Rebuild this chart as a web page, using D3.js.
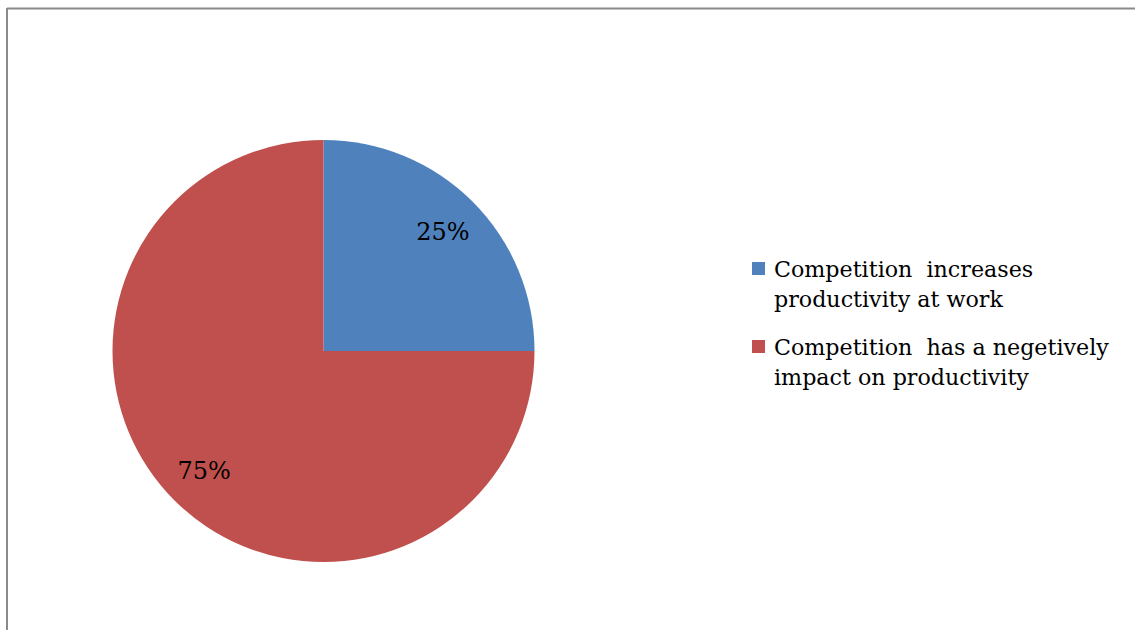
<!DOCTYPE html>
<html>
<head>
<meta charset="utf-8">
<script src="https://cdn.jsdelivr.net/npm/d3@7"></script>
<style>
  html, body { margin: 0; padding: 0; background: #fff; }
  svg { display: block; }
  text { font-family: "DejaVu Serif", "Liberation Serif", serif; }
</style>
</head>
<body>
<svg id="chart" width="1135" height="630"></svg>
<script>
// Survey answers and their shares
const categories = [
  ["Competition  increases", "productivity at work"],
  ["Competition  has a negetively", "impact on productivity"]
];
const values = [25, 75];
const labels = ["25%", "75%"];
const colors = ["#4F81BD", "#C0504D"];

const svg = d3.select("#chart");

// frame lines along the top and left
svg.append("line").attr("x1", 7).attr("y1", 8.5).attr("x2", 1135).attr("y2", 8.5)
  .attr("stroke", "#8a8a8a").attr("stroke-width", 2);
svg.append("line").attr("x1", 7).attr("y1", 8).attr("x2", 7).attr("y2", 630)
  .attr("stroke", "#8a8a8a").attr("stroke-width", 2);

const cx = 323.5, cy = 351, r = 211;
const pie = d3.pie().sort(null).value(d => d)(values);
const arc = d3.arc().innerRadius(0).outerRadius(r);
const labelArc = d3.arc().innerRadius(r * 0.8).outerRadius(r * 0.8);

const g = svg.append("g").attr("transform", `translate(${cx},${cy})`);
g.selectAll("path").data(pie).join("path")
  .attr("d", arc)
  .attr("fill", (d, i) => colors[i]);

g.selectAll("text.lbl").data(pie).join("text")
  .attr("class", "lbl")
  .attr("transform", d => `translate(${labelArc.centroid(d)})`)
  .attr("text-anchor", "middle")
  .attr("dy", "0.35em")
  .attr("font-size", 24)
  .attr("fill", "#000")
  .text((d, i) => labels[i]);

// legend
const legend = svg.append("g").attr("transform", "translate(752,262)");
const item = legend.selectAll("g").data(categories).join("g")
  .attr("transform", (d, i) => `translate(0,${i * 78})`);
item.append("rect").attr("width", 13).attr("height", 13).attr("y", 0)
  .attr("fill", (d, i) => colors[i]);
item.append("text")
  .attr("x", 22)
  .attr("y", 15)
  .attr("font-size", 22.2)
  .attr("fill", "#000")
  .attr("xml:space", "preserve")
  .style("white-space", "pre")
  .selectAll("tspan").data(d => d).join("tspan")
  .attr("x", 22)
  .attr("dy", (d, i) => i === 0 ? 0 : 29.5)
  .text(d => d);
</script>
</body>
</html>
